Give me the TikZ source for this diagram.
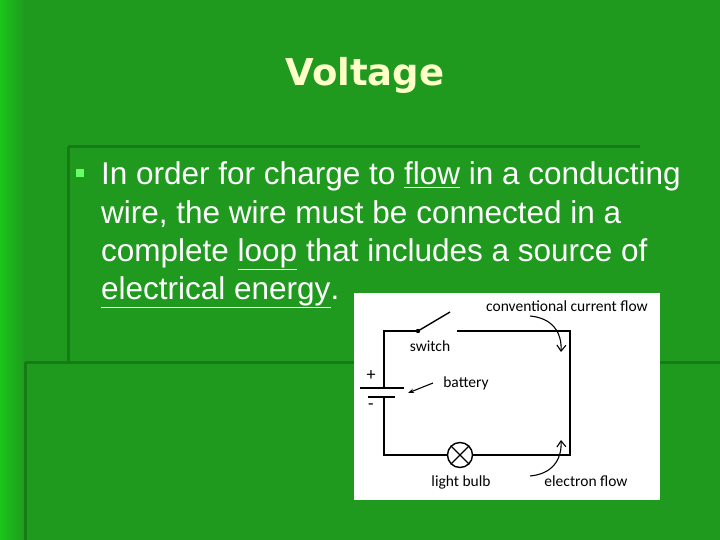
\documentclass[tikz,border=0pt]{standalone}
\usepackage{fontspec}
\setmainfont{Liberation Sans}
\newfontfamily\lab{Carlito}
\newfontfamily\ttlf{DejaVu Sans}
\usetikzlibrary{arrows.meta}
\definecolor{bg}{HTML}{1F9A1F}
\definecolor{dk}{HTML}{167A16}
\definecolor{ttl}{HTML}{FFFFC8}
\tikzset{wire/.style={line width=1.4pt,black},
 lbl/.style={font=\lab\fontsize{15.5}{17}\selectfont,inner sep=0pt},
 body/.style={font=\fontsize{31.5}{38}\selectfont,text=white,anchor=base west,inner sep=0pt}}
\begin{document}
\begin{tikzpicture}[x=1pt,y=-1pt]
\useasboundingbox (0,0) rectangle (720,540);
\fill[bg] (0,0) rectangle (720,540);
\shade[left color=green!75!black!90,right color=bg] (0,0) rectangle (25,540);
\draw[dk,line width=3pt] (68,147) -- (640,147);
\draw[dk,line width=3pt] (68,147) -- (68,362);
\draw[dk,line width=3pt] (25,362) -- (720,362);
\draw[dk,line width=3pt] (25,362) -- (25,540);
\node[font=\ttlf\bfseries\fontsize{37}{44}\selectfont,text=ttl] (t) at (365,75) {Voltage};
\fill[green!60!white] (76,169) rectangle (84,177);
\node[body] (l1) at (101,185) {In order for charge to \underline{flow} in a conducting};
\node[body] (l2) at (101,223) {wire, the wire must be connected in a};
\node[body] (l3) at (101,261) {complete \underline{loop} that includes a source of};
\node[body] (l4) at (101,299) {\underline{electrical energy}.};
\fill[white] (354,293) rectangle (660,500);
\coordinate (tl) at (384,331); \coordinate (sw) at (418,331);
\coordinate (swe) at (450,312); \coordinate (tr0) at (457,331);
\coordinate (tr) at (570,331); \coordinate (br) at (570,455);
\coordinate (bl) at (384,455); \coordinate (bp) at (384,388); \coordinate (bn) at (384,397);
\node[circle,draw,line width=1.4pt,minimum size=25pt,inner sep=0pt] (bulb) at (460,455) {};
\draw[wire] (bp) -- (tl) -- (sw);
\fill (sw) circle (2.2pt);
\draw[wire] (sw) -- (swe);
\draw[wire] (tr0) -- (tr) -- (br) -- (bulb.east);
\draw[wire] (bulb.west) -- (bl) -- (bn);
\draw[line width=1.2pt] (bulb.north east) -- (bulb.south west) (bulb.north west) -- (bulb.south east);
\draw[wire] (360,388) -- (404,388);
\draw[wire] (368,397) -- (395,397);
\node[lbl,font=\lab\fontsize{18}{18}\selectfont] (plus) at (371,376) {+};
\node[lbl,font=\lab\fontsize{18}{18}\selectfont] (minus) at (371,407) {-};
\node[lbl] (swl) at (430,346) {switch};
\node[lbl] (bat) at (466,383) {battery};
\node[lbl] (bl2) at (461,482) {light bulb};
\node[lbl] (ccf) at (567,306) {conventional current flow};
\node[lbl] (ef) at (586,481) {electron flow};
\draw[line width=1.1pt,-{Stealth[length=6pt]}] (433,383) -- (408,393);
\draw[line width=1.1pt,-{Straight Barb[length=6pt,width=9pt]}] (530,316) .. controls (552,318) and (562,332) .. (561,352);
\draw[line width=1.1pt,-{Straight Barb[length=6pt,width=9pt]}] (530,476) .. controls (552,474) and (562,460) .. (561,440);
\end{tikzpicture}
\end{document}
